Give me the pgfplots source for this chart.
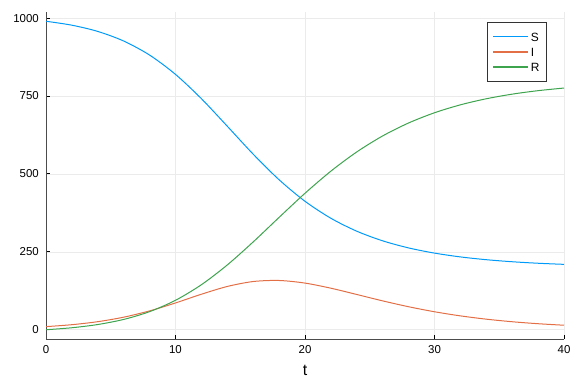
\documentclass[border=0pt]{standalone}
\usepackage{fontspec}
\setmainfont{Liberation Sans}
\usepackage{pgfplots}
\usepackage{pgfplotstable}
\pgfplotsset{compat=1.18}
\definecolor{cS}{RGB}{0,154,250}
\definecolor{cI}{RGB}{227,111,71}
\definecolor{cR}{RGB}{62,164,78}
\pgfplotstableread{
t S I R
0 990.00 10.00 0.00
2 977.34 16.22 6.44
4 957.30 25.90 16.80
6 926.53 40.34 33.13
8 881.42 60.49 58.09
10 819.48 86.00 94.52
12 741.51 113.98 144.51
14 653.10 138.91 207.99
16 563.37 154.75 281.88
18 481.29 158.09 360.62
20 412.28 149.72 438.00
22 357.70 133.30 509.00
24 316.19 113.13 570.68
26 285.30 92.62 622.08
28 262.57 73.84 663.59
30 245.92 57.72 696.36
32 233.72 44.49 721.79
34 224.78 33.93 741.29
36 218.22 25.68 756.10
38 213.39 19.33 767.28
40 209.84 14.48 775.68
}\sir
\begin{document}
\begin{tikzpicture}
\begin{axis}[
  scale only axis, width=518bp, height=327bp,
  xmin=0, xmax=40, ymin=-29.7, ymax=1019.7,
  axis lines*=left,
  axis line style={black!70, line width=1bp},
  xtick={0,10,20,30,40}, ytick={0,250,500,750,1000},
  tick align=inside, major tick length=4bp,
  tick style={black, line width=1bp},
  grid=major, grid style={black!8, line width=0.6bp},
  /pgf/number format/assume math mode=true,
  /pgf/number format/1000 sep={},
  ticklabel style={font=\fontsize{11.5}{13}\selectfont},
  yticklabel style={inner sep=0pt, anchor=east, xshift=-7bp},
  xticklabel style={inner sep=0pt, anchor=north, yshift=-6bp},
  scaled ticks=false,
  xlabel={t},
  xlabel style={font=\fontsize{16}{18}\selectfont, at={(axis description cs:0.5,-0.095)}, anchor=center},
  legend style={at={(0.967,0.969)}, anchor=north east, draw=black!80, line width=0.8bp,
    font=\fontsize{12}{14}\selectfont, inner xsep=5bp, inner ysep=8bp, row sep=2.5bp,
    nodes={inner sep=2bp, text height=8.6bp, text depth=0pt}},
  legend cell align=left,
  legend image code/.code={\draw[#1, line width=1.2bp] (0bp,0bp) -- (35bp,0bp);},
]
\addplot[color=cS, line width=1bp, smooth] table[x=t, y=S] {\sir};
\addlegendentry{S}
\addplot[color=cI, line width=1bp, smooth] table[x=t, y=I] {\sir};
\addlegendentry{I}
\addplot[color=cR, line width=1bp, smooth] table[x=t, y=R] {\sir};
\addlegendentry{R}
\end{axis}
\pgfresetboundingbox
\path (-46bp,-45bp) rectangle (530bp,339bp);
\end{tikzpicture}
\end{document}
